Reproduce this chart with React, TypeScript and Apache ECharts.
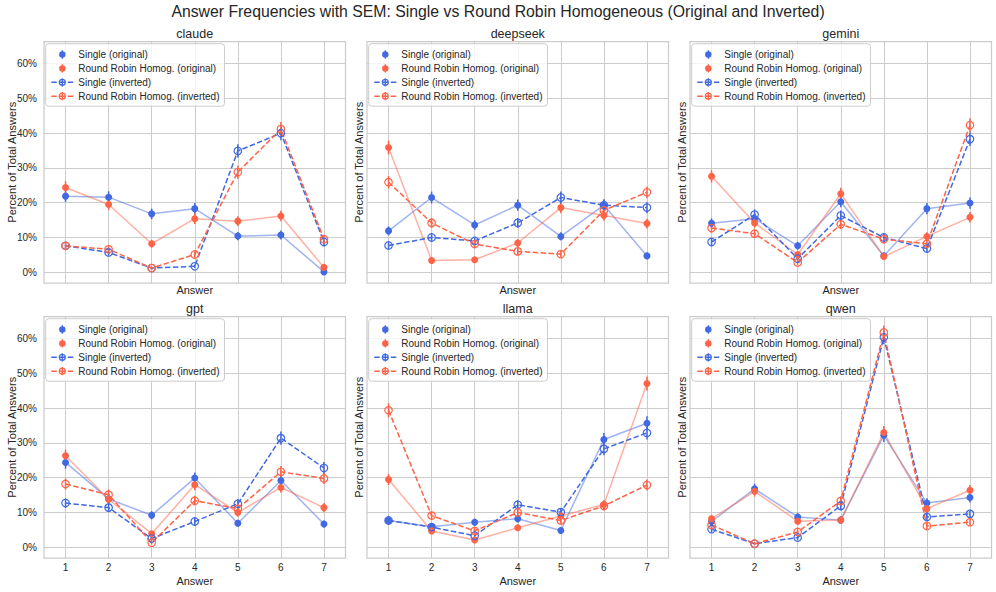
import React, { useEffect, useRef } from 'react';
import * as echarts from 'echarts';

const FONT = "'Liberation Sans', Arial, Helvetica, sans-serif";
const TEXT = '#262626';
const GRID = '#cccccc';

const TITLE = 'Answer Frequencies with SEM: Single vs Round Robin Homogeneous (Original and Inverted)';
const models = ['claude', 'deepseek', 'gemini', 'gpt', 'llama', 'qwen'];
const answers = [1, 2, 3, 4, 5, 6, 7];
const seriesNames = [
  'Single (original)',
  'Round Robin Homog. (original)',
  'Single (inverted)',
  'Round Robin Homog. (inverted)',
];
const seriesColors = ['#4169E1', '#FF6347', '#4169E1', '#FF6347'];
const yTickMin = 0;
const yTickMax = 60;
const yTickStep = 10;

// values in percent: [single orig, RR orig, single inv, RR inv]
const claudeValues = [
  [21.9, 21.6, 16.8, 18.3, 10.4, 10.7, 0.1],
  [24.4, 19.5, 8.2, 15.4, 14.7, 16.2, 1.4],
  [7.6, 5.7, 1.2, 1.7, 34.9, 40.0, 8.7],
  [7.6, 6.6, 1.2, 5.1, 28.8, 41.2, 9.5],
];
const claudeSem = [
  [1.7, 1.7, 1.5, 1.6, 1.2, 1.3, 0.1],
  [1.8, 1.6, 1.1, 1.5, 1.4, 1.5, 0.5],
  [1.1, 0.9, 0.4, 0.5, 1.9, 2.0, 1.2],
  [1.1, 1.0, 0.4, 0.9, 1.9, 2.0, 1.2],
];
const deepseekValues = [
  [11.9, 21.5, 13.6, 19.3, 10.3, 19.3, 4.7],
  [35.9, 3.4, 3.6, 8.4, 18.6, 16.3, 14.0],
  [7.7, 10.0, 9.0, 14.2, 21.5, 19.3, 18.6],
  [25.9, 14.2, 8.1, 6.0, 5.2, 17.8, 23.0],
];
const deepseekSem = [
  [1.3, 1.7, 1.4, 1.6, 1.2, 1.6, 0.9],
  [2.0, 0.7, 0.8, 1.1, 1.6, 1.5, 1.4],
  [1.1, 1.2, 1.2, 1.4, 1.7, 1.6, 1.6],
  [1.8, 1.4, 1.1, 1.0, 0.9, 1.6, 1.7],
];
const geminiValues = [
  [14.1, 15.4, 7.6, 20.3, 4.7, 18.3, 19.9],
  [27.6, 14.2, 5.1, 22.6, 4.5, 10.3, 15.8],
  [8.7, 16.6, 3.9, 16.3, 10.0, 6.8, 38.3],
  [12.7, 11.1, 2.8, 13.8, 9.5, 8.2, 42.3],
];
const geminiSem = [
  [1.4, 1.5, 1.1, 1.6, 0.9, 1.6, 1.6],
  [1.8, 1.4, 0.9, 1.7, 0.8, 1.2, 1.5],
  [1.2, 1.5, 0.8, 1.5, 1.2, 1.0, 2.0],
  [1.4, 1.3, 0.7, 1.4, 1.2, 1.1, 2.0],
];
const gptValues = [
  [24.4, 13.9, 9.2, 19.9, 6.9, 19.2, 6.7],
  [26.3, 13.8, 3.9, 18.0, 10.0, 17.2, 11.4],
  [12.7, 11.4, 2.5, 7.4, 12.5, 31.4, 22.8],
  [18.2, 15.1, 1.3, 13.4, 11.1, 21.7, 19.8],
];
const gptSem = [
  [1.8, 1.4, 1.2, 1.6, 1.0, 1.6, 1.0],
  [1.8, 1.4, 0.8, 1.6, 1.2, 1.5, 1.3],
  [1.4, 1.3, 0.6, 1.1, 1.4, 1.9, 1.7],
  [1.6, 1.5, 0.5, 1.4, 1.3, 1.7, 1.6],
];
const llamaValues = [
  [7.7, 5.9, 7.2, 8.2, 4.8, 31.0, 35.7],
  [19.5, 4.7, 2.1, 5.6, 9.0, 12.3, 47.1],
  [7.7, 5.8, 3.3, 12.2, 10.1, 28.3, 32.9],
  [39.4, 9.1, 4.7, 10.0, 7.7, 11.9, 17.9],
];
const llamaSem = [
  [1.1, 0.9, 1.0, 1.1, 0.9, 1.9, 2.0],
  [1.6, 0.9, 0.6, 0.9, 1.2, 1.3, 2.0],
  [1.1, 0.9, 0.7, 1.3, 1.2, 1.8, 1.9],
  [2.0, 1.2, 0.9, 1.2, 1.1, 1.3, 1.6],
];
const qwenValues = [
  [7.4, 16.8, 8.7, 7.8, 32.2, 12.7, 14.3],
  [8.2, 16.1, 7.5, 7.8, 33.0, 11.1, 16.4],
  [5.2, 1.0, 2.8, 11.9, 60.4, 8.7, 9.6],
  [6.4, 1.0, 4.4, 13.3, 61.8, 6.1, 7.2],
];
const qwenSem = [
  [1.1, 1.5, 1.2, 1.1, 1.9, 1.4, 1.4],
  [1.1, 1.5, 1.1, 1.1, 1.9, 1.3, 1.5],
  [0.9, 0.4, 0.7, 1.3, 2.0, 1.2, 1.2],
  [1.0, 0.4, 0.8, 1.4, 2.0, 1.0, 1.0],
];

const panelValues = [claudeValues, deepseekValues, geminiValues, gptValues, llamaValues, qwenValues];
const panelSem = [claudeSem, deepseekSem, geminiSem, gptSem, llamaSem, qwenSem];

// layout
const COL_LEFT = [44, 367, 690];
const COL_W = 301.5;
const ROW_TOP = [41.5, 316.5];
const ROW_H = 241.5;
const Y_MIN = -3.1;
const Y_MAX = 66.4;

const ICON_ORIG =
  'path://M2.5 0L3.9 0L3.9 8.3L2.5 8.3Z M0 4.15A3.2 3.2 0 0 1 6.4 4.15A3.2 3.2 0 0 1 0 4.15Z';
const ICON_INV =
  'path://M0 3.4L5.5 3.4L5.5 4.9L0 4.9Z M8 3.4L14 3.4L14 4.9L8 4.9Z M16.5 3.4L22 3.4L22 4.9L16.5 4.9Z ' +
  'M10.3 0L11.7 0L11.7 8.3L10.3 8.3Z M7.4 4.15A3.6 3.6 0 0 1 14.6 4.15A3.6 3.6 0 0 1 7.4 4.15Z ' +
  'M8.6 4.15A2.4 2.4 0 0 0 13.4 4.15A2.4 2.4 0 0 0 8.6 4.15Z';

function buildOption() {
  const grids: any[] = [];
  const xAxes: any[] = [];
  const yAxes: any[] = [];
  const series: any[] = [];
  const legends: any[] = [];
  const titles: any[] = [
    {
      text: TITLE,
      left: 498,
      top: 3.5,
      textAlign: 'center',
      padding: 0,
      textStyle: { fontSize: 15.8, fontWeight: 'normal', color: TEXT, fontFamily: FONT },
    },
  ];

  models.forEach((model, p) => {
    const col = p % 3;
    const row = Math.floor(p / 3);
    const L = COL_LEFT[col];
    const T = ROW_TOP[row];
    const W = COL_W;
    const H = ROW_H;
    const pxPerUnit = H / (Y_MAX - Y_MIN);
    const gF = p * 3;
    const gA = p * 3 + 1;
    const gB = p * 3 + 2;

    // frame grid (border + axis names)
    grids.push({
      left: L, top: T, width: W, height: H,
      show: true, borderColor: GRID, borderWidth: 1.25, backgroundColor: 'rgba(0,0,0,0)',
      containLabel: false, outerBoundsMode: 'none',
    });
    xAxes.push({
      gridIndex: gF, type: 'value', min: 0, max: 1, show: true,
      axisLine: { show: false }, axisTick: { show: false }, axisLabel: { show: false }, splitLine: { show: false },
      name: 'Answer', nameLocation: 'middle', nameGap: row === 0 ? 1 : 17,
      nameTextStyle: { fontSize: 11, color: TEXT, fontFamily: FONT },
    });
    yAxes.push({
      gridIndex: gF, type: 'value', min: 0, max: 1, show: true,
      axisLine: { show: false }, axisTick: { show: false }, axisLabel: { show: false }, splitLine: { show: false },
      name: 'Percent of Total Answers', nameLocation: 'middle', nameGap: col === 0 ? 27 : 3,
      nameTextStyle: { fontSize: 11, color: TEXT, fontFamily: FONT },
    });

    // data grid (x from answer 1 to 7, full frame height)
    grids.push({
      left: L + W / 14, top: T, width: (W * 6) / 7, height: H,
      show: false, containLabel: false, outerBoundsMode: 'none',
    });
    xAxes.push({
      gridIndex: gA, type: 'value', min: answers[0], max: answers[answers.length - 1], interval: 1,
      axisLine: { show: false }, axisTick: { show: false },
      axisLabel: { show: row === 1, fontSize: 10, color: TEXT, fontFamily: FONT, margin: 4 },
      splitLine: { show: true, lineStyle: { color: GRID, width: 1 } },
    });
    yAxes.push({
      gridIndex: gA, type: 'value', min: Y_MIN, max: Y_MAX, show: false,
      splitLine: { show: false },
    });

    // tick grid (y 0..60, full frame width)
    grids.push({
      left: L, top: T + (Y_MAX - yTickMax) * pxPerUnit, width: W, height: (yTickMax - yTickMin) * pxPerUnit,
      show: false, containLabel: false, outerBoundsMode: 'none',
    });
    xAxes.push({ gridIndex: gB, type: 'value', min: 0, max: 1, show: false });
    yAxes.push({
      gridIndex: gB, type: 'value', min: yTickMin, max: yTickMax, interval: yTickStep,
      axisLine: { show: false }, axisTick: { show: false },
      axisLabel: { show: col === 0, formatter: '{value}%', fontSize: 10, color: TEXT, fontFamily: FONT, margin: 7 },
      splitLine: { show: true, lineStyle: { color: GRID, width: 1 } },
    });

    titles.push({
      text: model,
      left: L + W / 2,
      top: T - 14,
      textAlign: 'center',
      padding: 0,
      textStyle: { fontSize: 12.5, fontWeight: 'normal', color: TEXT, fontFamily: FONT },
    });

    const vals = panelValues[p];
    const sems = panelSem[p];
    // error bars first
    vals.forEach((arr, k) => {
      const color = seriesColors[k];
      series.push({
        type: 'custom',
        xAxisIndex: gA,
        yAxisIndex: gA,
        silent: true,
        data: arr.map((v, i) => [answers[i], v, sems[k][i]]),
        renderItem: (params: any, api: any) => {
          const x = api.value(0);
          const v = api.value(1);
          const s = api.value(2);
          const a = api.coord([x, v - s]);
          const b = api.coord([x, v + s]);
          return {
            type: 'line',
            shape: { x1: a[0], y1: a[1], x2: b[0], y2: b[1] },
            style: { stroke: color, lineWidth: 1.5 },
          };
        },
      });
    });
    vals.forEach((arr, k) => {
      const color = seriesColors[k];
      const inverted = k >= 2;
      series.push({
        type: 'line',
        name: seriesNames[k],
        xAxisIndex: gA,
        yAxisIndex: gA,
        clip: false,
        silent: true,
        data: arr.map((v, i) => [answers[i], v]),
        symbol: 'circle',
        symbolSize: inverted ? 7.5 : 7,
        showSymbol: true,
        showAllSymbol: true,
        itemStyle: inverted
          ? { color: 'rgba(0,0,0,0)', borderColor: color, borderWidth: 1.2 }
          : { color: color, borderWidth: 0 },
        lineStyle: inverted
          ? { color: color, width: 1.5, type: [5.5, 2.4], opacity: 1 }
          : { color: color, width: 1.5, type: 'solid', opacity: 0.5 },
        emphasis: { disabled: true },
      });
    });

    legends.push({
      show: true,
      orient: 'vertical',
      left: L + 1.7,
      top: T + 2.2,
      itemWidth: 22,
      itemHeight: 8.3,
      itemGap: 3.9,
      padding: [5.8, 5, 5, 5.6],
      backgroundColor: 'rgba(255,255,255,0.8)',
      borderColor: GRID,
      borderWidth: 1,
      borderRadius: 3,
      selectedMode: false,
      symbolKeepAspect: true,
      textStyle: { fontSize: 10, color: TEXT, fontFamily: FONT },
      data: seriesNames.map((n, k) => ({
        name: n,
        icon: k < 2 ? ICON_ORIG : ICON_INV,
        itemStyle: { color: seriesColors[k], borderWidth: 0, opacity: 1 },
      })),
    });
  });

  return {
    animation: false,
    backgroundColor: '#ffffff',
    textStyle: { fontFamily: FONT, color: TEXT },
    title: titles,
    legend: legends,
    grid: grids,
    xAxis: xAxes,
    yAxis: yAxes,
    series,
  };
}

export default function App() {
  const ref = useRef<HTMLDivElement>(null);
  useEffect(() => {
    if (!ref.current) return;
    const chart = echarts.init(ref.current, undefined, { renderer: 'svg' });
    chart.setOption(buildOption() as any);
    return () => chart.dispose();
  }, []);
  return (
    <div
      ref={ref}
      style={{ position: 'absolute', left: 0, top: 0, width: 996, height: 592, background: '#fff' }}
    />
  );
}
